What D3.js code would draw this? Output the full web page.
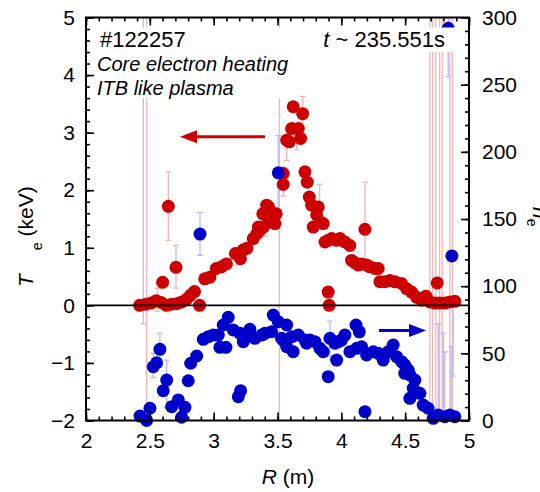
<!DOCTYPE html>
<html>
<head>
<meta charset="utf-8">
<script src="https://cdn.jsdelivr.net/npm/d3@7"></script>
<style>
  body { margin: 0; background: #fff; }
  svg { display: block; }
  text { font-family: "Liberation Sans", Arial, Helvetica, sans-serif; }
</style>
</head>
<body>
<script>
// Electron temperature profile, Te (keV) vs major radius R (m)
const teR = [2.42, 2.47, 2.51, 2.55, 2.59, 2.63, 2.67, 2.71, 2.75, 2.79, 2.82, 2.85, 2.89,
  2.60, 2.645, 2.705,
  2.93, 2.97, 3.02, 3.06, 3.10, 3.17, 3.21, 3.23, 3.26, 3.31, 3.34, 3.36, 3.39, 3.35, 3.385, 3.415, 3.43, 3.43, 3.47, 3.48, 3.49,
  3.545, 3.545, 3.572, 3.592, 3.611, 3.663, 3.623, 3.697, 3.681,
  3.715, 3.733, 3.749, 3.767, 3.819, 3.807, 3.78, 3.858, 3.832,
  3.872, 3.897, 3.924, 3.963, 3.989, 4.028, 4.067, 4.08, 4.107, 4.133, 4.159, 4.185, 4.198, 4.224, 4.263, 4.289,
  4.302, 4.341, 4.38, 4.42, 4.472, 4.511, 4.55, 4.59, 4.629, 4.662, 4.694, 4.733, 4.772, 4.811, 4.85, 4.889, 4.751,
  3.897, 3.905];
const teVal = [0.00, 0.02, 0.04, 0.08, 0.05, 0.00, 0.02, 0.03, 0.06, 0.11, 0.18, 0.24, 0.00,
  0.40, 1.72, 0.66,
  0.46, 0.49, 0.64, 0.67, 0.72, 0.90, 0.81, 0.96, 0.99, 1.16, 1.25, 1.30, 1.36, 1.36, 1.59, 1.74, 1.71, 1.45, 1.59, 1.42, 1.59,
  2.10, 2.29, 2.87, 2.84, 3.07, 3.07, 3.45, 3.33, 2.90,
  2.32, 2.14, 1.88, 1.74, 1.71, 1.57, 1.36, 1.42, 1.45,
  1.10, 1.13, 1.16, 1.13, 1.16, 1.10, 1.04, 0.78, 0.74, 0.70, 0.72, 1.32, 0.70, 0.67, 0.64, 0.64,
  0.41, 0.41, 0.43, 0.41, 0.38, 0.29, 0.23, 0.14, 0.09, 0.16, 0.06, 0.04, 0.04, 0.04, 0.06, 0.07, 0.39,
  0.23, 0.00];

// Te error bars: position, lower and upper end (keV)
const teBarR  = [2.475, 3.514, 4.694, 4.715, 4.74, 4.77, 4.79, 4.85, 4.87,
  2.645, 2.705, 2.56, 3.572, 3.65, 3.697, 3.545, 4.185, 3.83, 3.40, 3.18];
const teBarLo = [-3, -3, -3, -3, -3, -3, -3, -3, -3,
  1.13, 0.30, -0.1, 2.52, 2.70, 3.10, 1.90, 0.67, 1.65, 1.20, 0.70];
const teBarHi = [6, 6, 6, 6, 6, 6, 6, 6, 6,
  2.32, 1.04, 0.30, 3.05, 3.10, 3.63, 2.40, 2.14, 2.10, 1.50, 1.00];

// Electron density profile, ne vs major radius R (m)
const neR = [2.423, 2.475, 2.501, 2.527, 2.553, 2.579, 2.605, 2.632, 2.671, 2.723, 2.749, 2.775, 2.801, 2.82, 2.867,
  2.919, 2.958, 2.997, 3.036, 3.049, 3.096, 3.075, 3.114, 3.153, 3.206, 3.245, 3.193, 3.211,
  3.232, 3.258, 3.284, 3.323, 3.376, 3.402, 3.454, 3.467, 3.506, 3.532, 3.545, 3.572, 3.572, 3.611, 3.623, 3.663, 3.715, 3.728,
  3.754, 3.793, 3.832, 3.858, 3.897, 3.911, 3.95, 3.963, 3.976, 4.002, 4.028, 4.067, 4.12, 4.115, 4.141, 4.159, 4.185,
  4.198, 4.25, 4.289, 4.328, 4.367, 4.406, 4.433, 4.472, 4.497, 4.524, 4.497, 4.537, 4.576, 4.563, 4.615, 4.537,
  4.641, 4.68, 4.72, 4.759, 4.811, 4.85, 4.889,
  2.893, 3.506, 4.866, 4.837];
const neVal = [3.3, 0, 9.1, 40, 43, 53, 22.2, 30.1, 10.3, 15.3, 2.4, 9.8, 29.6, 42.6, 48,
  60.4, 62.4, 63.6, 63.6, 54.5, 54.5, 71.1, 76.8, 67.4, 64.9, 61.9, 17.7, 22.2,
  58.7, 62.4, 67.9, 61.2, 63.6, 64.9, 66.1, 78.5, 73.5, 61.2, 59.9, 54.9, 71.1, 62.4, 51.2, 63.6, 59.9, 57.5,
  59.9, 58.7, 53.7, 51.2, 32.6, 61.2, 57.5, 45, 58.7, 59.9, 63.6, 51.2, 53.7, 71, 66, 54.9, 6.6,
  48.8, 51.2, 50, 45, 51.2, 56.2, 47.5, 43.8, 41.3, 37.6, 35.1, 33.9, 30.1, 24, 20.2, 16.5,
  11.5, 9.1, 1.6, 4.1, 2.8, 4.1, 2.8,
  138.8, 184.4, 122.5, 292];

// ne error bars: position, lower and upper end
const neBarR  = [2.449, 2.893, 3.506, 3.911, 2.579, 2.632, 2.527, 4.759, 4.80, 4.811, 4.86, 4.875, 4.837];
const neBarLo = [72, 123, 157, 48, 40, 10, 32, -20, -20, -20, -20, 33, 256];
const neBarHi = [400, 155, 212, 74, 65, 45, 50, 72, 65, 51, 55, 90, 330];

const xTicks = [2, 2.5, 3, 3.5, 4, 4.5, 5];
const teTicks = [-2, -1, 0, 1, 2, 3, 4, 5];
const neTicks = [0, 50, 100, 150, 200, 250, 300];

const W = 540, H = 492;
const mLeft = 86, mRight = 469, mTop = 17.5, mBottom = 420.5;
const red = "#cc0000", blue = "#0000c8";

const svg = d3.select("body").append("svg").attr("width", W).attr("height", H);

const x = d3.scaleLinear().domain([2, 5]).range([mLeft, mRight]);
const yT = d3.scaleLinear().domain([-2, 5]).range([mBottom, mTop]);
const yN = d3.scaleLinear().domain([0, 300]).range([mBottom, mTop]);

const minorX = d3.range(2, 5.001, 0.1).map(v => +v.toFixed(2));
const minorT = d3.range(-2, 5.001, 0.2).map(v => +v.toFixed(2));
const minorN = d3.range(0, 300.1, 10);

svg.append("defs").append("clipPath").attr("id", "plotclip")
  .append("rect").attr("x", mLeft).attr("y", mTop).attr("width", mRight - mLeft).attr("height", mBottom - mTop);

// error bars
const bars = svg.append("g").attr("clip-path", "url(#plotclip)");
teBarR.forEach((r, i) => {
  const g = bars.append("g").attr("stroke", "#f3b4b4").attr("stroke-width", 1.3);
  g.append("line").attr("x1", x(r)).attr("x2", x(r)).attr("y1", yT(teBarLo[i])).attr("y2", yT(teBarHi[i]));
  [teBarLo[i], teBarHi[i]].forEach(v => g.append("line")
    .attr("x1", x(r) - 3).attr("x2", x(r) + 3).attr("y1", yT(v)).attr("y2", yT(v)));
});
neBarR.forEach((r, i) => {
  const g = bars.append("g").attr("stroke", "#b9b9f2").attr("stroke-width", 1.3);
  g.append("line").attr("x1", x(r)).attr("x2", x(r)).attr("y1", yN(neBarLo[i])).attr("y2", yN(neBarHi[i]));
  [neBarLo[i], neBarHi[i]].forEach(v => g.append("line")
    .attr("x1", x(r) - 3).attr("x2", x(r) + 3).attr("y1", yN(v)).attr("y2", yN(v)));
});

// data points
const pts = svg.append("g").attr("clip-path", "url(#plotclip)");
pts.append("g").selectAll("circle").data(teR).join("circle")
  .attr("cx", d => x(d)).attr("cy", (d, i) => yT(teVal[i])).attr("r", 6.5).attr("fill", red);
svg.append("g").selectAll("circle").data(neR).join("circle")
  .attr("cx", d => x(d)).attr("cy", (d, i) => yN(neVal[i])).attr("r", 6.5).attr("fill", blue);

// Te = 0 reference line
svg.append("line").attr("x1", mLeft).attr("x2", mRight).attr("y1", yT(0)).attr("y2", yT(0))
  .attr("stroke", "#000").attr("stroke-width", 1.6);

// annotation text on opaque white boxes
const fs = 21;
svg.append("rect").attr("x", 92).attr("y", 27.5).attr("width", 370).attr("height", 24.5).attr("fill", "#fff");
svg.append("rect").attr("x", 92).attr("y", 52).attr("width", 196).attr("height", 46).attr("fill", "#fff");
svg.append("text").attr("x", 100).attr("y", 46.5).attr("font-size", 22).text("#122257");
const tt = svg.append("text").attr("x", 445).attr("y", 46.5).attr("font-size", 22).attr("text-anchor", "end");
tt.append("tspan").attr("font-style", "italic").text("t");
tt.append("tspan").text(" ~ 235.551s");
svg.append("text").attr("x", 97).attr("y", 70.7).attr("font-size", 20).attr("font-style", "italic").text("Core electron heating");
svg.append("text").attr("x", 97).attr("y", 94.8).attr("font-size", 20).attr("font-style", "italic").text("ITB like plasma");

// arrows pointing to each profile's axis
function arrow(x0, x1, y, color) {
  const dir = Math.sign(x1 - x0);
  const hl = 17, hw = 6.5;
  svg.append("line").attr("x1", x0).attr("x2", x1 - dir * hl + dir).attr("y1", y).attr("y2", y)
    .attr("stroke", color).attr("stroke-width", 3);
  svg.append("path").attr("fill", color)
    .attr("d", `M${x1},${y} L${x1 - dir * hl},${y - hw} L${x1 - dir * hl},${y + hw} Z`);
}
arrow(265, 180, 136.7, red);
arrow(379, 426, 330.5, blue);

// axes: ticks point inward on all four sides
function styleAxis(g) {
  g.selectAll(".domain").remove();
  g.selectAll("line").attr("stroke", "#000").attr("stroke-width", 1.6);
  g.selectAll("text").attr("font-size", fs).attr("fill", "#000")
    .style("font-family", "'Liberation Sans', Arial, sans-serif");
}
svg.append("g").attr("transform", `translate(0,${mBottom})`)
  .call(d3.axisBottom(x).tickValues(xTicks).tickSize(-8).tickPadding(13).tickFormat(d3.format("")))
  .call(styleAxis);
svg.append("g").attr("transform", `translate(0,${mBottom})`)
  .call(d3.axisBottom(x).tickValues(minorX).tickSize(-4).tickFormat(""))
  .call(styleAxis);
svg.append("g").attr("transform", `translate(0,${mTop})`)
  .call(d3.axisTop(x).tickValues(xTicks).tickSize(-8).tickFormat(""))
  .call(styleAxis);
svg.append("g").attr("transform", `translate(0,${mTop})`)
  .call(d3.axisTop(x).tickValues(minorX).tickSize(-4).tickFormat(""))
  .call(styleAxis);
svg.append("g").attr("transform", `translate(${mLeft},0)`)
  .call(d3.axisLeft(yT).tickValues(teTicks).tickSize(-8).tickPadding(11).tickFormat(d3.format("")))
  .call(styleAxis);
svg.append("g").attr("transform", `translate(${mLeft},0)`)
  .call(d3.axisLeft(yT).tickValues(minorT).tickSize(-4).tickFormat(""))
  .call(styleAxis);
svg.append("g").attr("transform", `translate(${mRight},0)`)
  .call(d3.axisRight(yN).tickValues(neTicks).tickSize(-8).tickPadding(13).tickFormat(d3.format("")))
  .call(styleAxis);
svg.append("g").attr("transform", `translate(${mRight},0)`)
  .call(d3.axisRight(yN).tickValues(minorN).tickSize(-4).tickFormat(""))
  .call(styleAxis);

// plot frame
svg.append("rect").attr("x", mLeft).attr("y", mTop).attr("width", mRight - mLeft).attr("height", mBottom - mTop)
  .attr("fill", "none").attr("stroke", "#000").attr("stroke-width", 2);

// axis titles
const xt = svg.append("text").attr("x", 288).attr("y", 484).attr("font-size", fs).attr("text-anchor", "middle");
xt.append("tspan").attr("font-style", "italic").text("R");
xt.append("tspan").text(" (m)");

const lt = svg.append("text").attr("transform", "translate(33,287) rotate(-90)").attr("font-size", fs);
lt.append("tspan").attr("font-style", "italic").text("T");
lt.append("tspan").attr("font-size", 14).attr("dx", 24).attr("dy", 9).text("e");
lt.append("tspan").attr("dy", -9).text(" (keV)");

const rt = svg.append("text").attr("transform", "translate(533,207) rotate(90)").attr("font-size", fs);
rt.append("tspan").attr("font-style", "italic").text("n");
rt.append("tspan").attr("font-size", 14).attr("dy", 6).text("e");
</script>
</body>
</html>
